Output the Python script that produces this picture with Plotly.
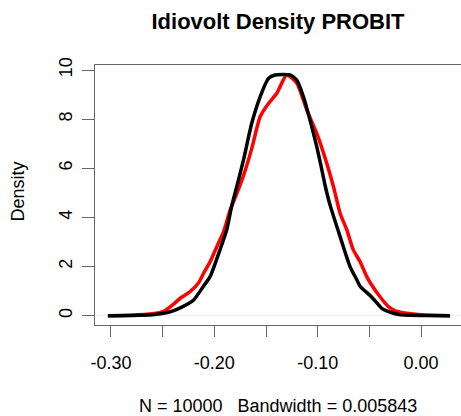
import plotly.graph_objects as go

# Black density curve (x, density)
black_x = [-0.303, -0.28, -0.26, -0.249, -0.24, -0.233, -0.225, -0.22, -0.2105, -0.204,
           -0.1944, -0.188, -0.183, -0.178, -0.1718, -0.1638, -0.1557, -0.1476, -0.1412,
           -0.1267, -0.1202, -0.1138, -0.1074, -0.1009, -0.096, -0.0928, -0.088, -0.0783,
           -0.0687, -0.062, -0.059, -0.0493, -0.0461, -0.038, -0.0332, -0.025, -0.0171,
           0.0, 0.028]
black_y = [0.0, 0.01, 0.04, 0.1, 0.2, 0.32, 0.5, 0.64, 1.2, 1.6,
           2.7, 3.5, 4.5, 5.3, 6.34, 7.83, 8.91, 9.66, 9.8,
           9.8, 9.59, 8.91, 7.96, 6.88, 5.95, 5.3, 4.5, 3.22,
           2.0, 1.45, 1.2, 0.82, 0.68, 0.3, 0.2, 0.08, 0.03,
           0.01, 0.0]

# Red density curve (x, density)
red_x = [-0.303, -0.28, -0.26, -0.249, -0.24, -0.233, -0.2234, -0.215, -0.2105, -0.204,
         -0.1976, -0.1912, -0.1847, -0.178, -0.1718, -0.1638, -0.1557, -0.1476, -0.1396,
         -0.1299, -0.1202, -0.1105, -0.1009, -0.0912, -0.0847, -0.0783, -0.0718, -0.0654,
         -0.059, -0.0525, -0.0493, -0.0397, -0.0316, -0.025, -0.0138, 0.0, 0.028]
red_y = [0.0, 0.02, 0.08, 0.18, 0.45, 0.71, 0.98, 1.35, 1.72, 2.2,
         2.81, 3.4, 4.3, 5.0, 5.7, 6.8, 8.1, 8.64, 9.05,
         9.8, 9.46, 8.37, 7.42, 6.2, 5.25, 4.17, 3.49, 2.67,
         2.2, 1.59, 1.35, 0.77, 0.37, 0.2, 0.1, 0.04, 0.0]

x_tick_vals = [-0.30, -0.25, -0.20, -0.15, -0.10, -0.05, 0.00]
x_tick_text = ["-0.30", "", "-0.20", "", "-0.10", "", "0.00"]
y_tick_vals = [0, 2, 4, 6, 8, 10]

title_text = "Idiovolt Density PROBIT"
x_label = "N = 10000   Bandwidth = 0.005843"
y_label = "Density"

FONT = "Liberation Sans, Arial, Helvetica, sans-serif"
AXC = "#666666"

fig = go.Figure()
fig.add_trace(go.Scatter(x=red_x, y=red_y, mode="lines",
                         line=dict(color="#ff0000", width=3.5, shape="spline", smoothing=0.6),
                         hoverinfo="skip"))
fig.add_trace(go.Scatter(x=black_x, y=black_y, mode="lines",
                         line=dict(color="#000000", width=3.5, shape="spline", smoothing=0.6),
                         hoverinfo="skip"))

fig.update_layout(
    width=461, height=416,
    margin=dict(l=95, r=0, t=65, b=91, autoexpand=False),
    paper_bgcolor="white", plot_bgcolor="white",
    showlegend=False,
    font=dict(family=FONT, size=18, color="#000000"),
    title=dict(text=title_text, x=278/461, xanchor="center", xref="container",
               y=1 - 21/416, yanchor="middle", yref="container", automargin=False,
               font=dict(family=FONT, size=22, color="#000000", weight="bold")),
    xaxis=dict(range=[-0.31547, 0.03868], tickvals=x_tick_vals, ticktext=x_tick_text,
               automargin=False, ticklabelstandoff=10,
               showgrid=False, zeroline=False, showline=True, mirror=True,
               linecolor=AXC, linewidth=1.3, ticks="outside", ticklen=11,
               tickcolor=AXC, tickwidth=1.3, tickfont=dict(size=18, color="#000000")),
    yaxis=dict(range=[-0.3785, 10.204], tickvals=y_tick_vals, tickangle=-90,
               automargin=False, ticklabelstandoff=3,
               showgrid=False, zeroline=True, zerolinecolor="#eeeeee", zerolinewidth=1,
               showline=True, mirror=False, linecolor=AXC, linewidth=1.3,
               ticks="outside", ticklen=12, tickcolor=AXC, tickwidth=1.3,
               tickfont=dict(size=18, color="#000000")),
    annotations=[
        dict(text=x_label, xref="paper", yref="paper", x=(278 - 95) / 366,
             y=(325 - 406) / 260, xanchor="center", yanchor="middle", showarrow=False,
             font=dict(family=FONT, size=18, color="#000000")),
        dict(text=y_label, xref="paper", yref="paper", x=(17.5 - 95) / 366,
             y=(325 - 192) / 260, xanchor="center", yanchor="middle", showarrow=False,
             textangle=-90, font=dict(family=FONT, size=18, color="#000000")),
    ],
)

fig.write_html("out.html", config={"displayModeBar": False},
               post_script="document.body.style.margin='0';document.body.style.overflow='hidden';")
